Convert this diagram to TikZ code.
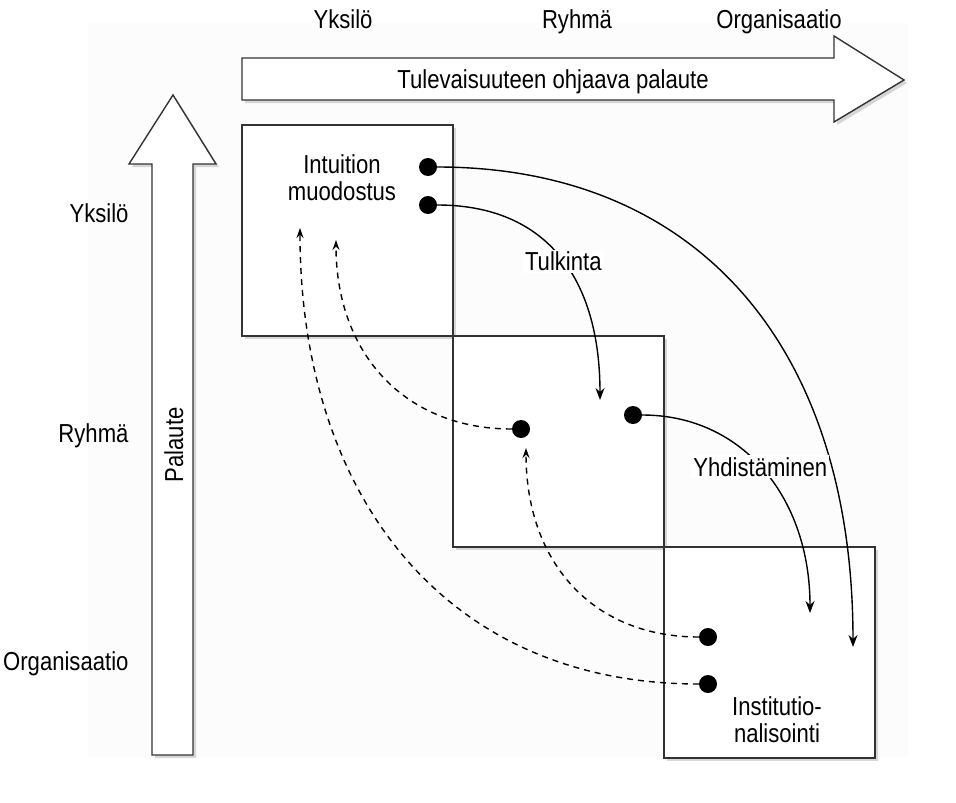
\documentclass[tikz,border=0pt]{standalone}
\usepackage{fontspec}
\setmainfont{Liberation Sans}[FakeStretch=0.85]
\usetikzlibrary{arrows.meta,positioning,shadows}

\begin{document}
\begin{tikzpicture}[
  x=1pt, y=-1pt,
  font=\fontsize{26}{27}\selectfont,
  box/.style={draw=black!80, line width=1.4pt, fill=white, minimum size=211pt, outer sep=0pt, inner sep=0pt, drop shadow={shadow xshift=3pt, shadow yshift=-3pt, opacity=.3}},
  bigarrow/.style={draw=black!80, line width=1.4pt, fill=white, line join=miter, drop shadow={shadow xshift=3pt, shadow yshift=-3pt, opacity=.3}},
  lvl/.style={anchor=base east},
  toplvl/.style={anchor=base},
  txt/.style={align=center, anchor=base},
  dot/.style={circle, fill=black, minimum size=18pt, inner sep=0pt},
  flow/.style={line width=1.4pt, -{Stealth[length=12pt,width=9pt]}},
  back/.style={line width=1.4pt, dash pattern=on 6pt off 5pt, -{Stealth[length=10pt,width=7pt]}},
  tag/.style={fill=white, inner sep=2pt}
]
\useasboundingbox (0,0) rectangle (956,803);
\fill[gray!2] (88,23) rectangle (908,758);

% levels
\node[toplvl] (tyks) at (343,28) {Yksilö};
\node[toplvl] (tryh) at (577,28) {Ryhmä};
\node[toplvl] (torg) at (779,28) {Organisaatio};
\node[lvl] (lyks) at (132,222) {Yksilö};
\node[lvl] (lryh) at (132,442) {Ryhmä};
\node[lvl] (lorg) at (132,670) {Organisaatio};

% feedforward and feedback
\draw[bigarrow] (242,58) -- (834,58) -- (834,36) -- (904,80) -- (834,122) -- (834,100) -- (242,100) -- cycle;
\node[txt] (fwd) at (553,88) {Tulevaisuuteen ohjaava palaute};
\draw[bigarrow] (152,755) -- (152,164) -- (129,164) -- (173,95) -- (216,164) -- (193,164) -- (193,755) -- cycle;
\node[txt, rotate=90] (fb) at (183,445) {Palaute};

% boxes
\node[box, anchor=north west] (indiv) at (242,125) {};
\node[box, anchor=north west] (grp) at (indiv.south east) {};
\node[box, anchor=north west] (org) at (grp.south east) {};
\node[txt] (intu) at (342,200) {Intuition\\muodostus};
\node[txt] (inst) at (777,742) {Institutio-\\nalisointi};

% dots
\node[dot] (ia) at (428,167) {};
\node[dot] (ib) at (428,205) {};
\node[dot] (ga) at (521,429) {};
\node[dot] (gb) at (633,415) {};
\node[dot] (oa) at (708,637) {};
\node[dot] (ob) at (708,684) {};

\coordinate (iend) at (853,647);
\coordinate (tend) at (600,400);
\coordinate (yend) at (810,613);
\coordinate (gend) at (336,240);
\coordinate (oend) at (526,448);
\coordinate (ofar) at (300,228);

\draw[flow] (ia) .. controls +(270,0) and +(0,-300) .. (iend);
\draw[flow] (ib) .. controls +(120,0) and +(0,-120) .. (tend) node[tag, pos=0.52] (tulk) {Tulkinta};
\draw[flow] (gb) .. controls +(110,0) and +(0,-115) .. (yend) node[tag, pos=0.48] (yhd) {Yhdistäminen};
\draw[back] (ga) .. controls +(-115,0) and +(0,115) .. (gend);
\draw[back] (oa) .. controls +(-115,0) and +(0,115) .. (oend);
\draw[back] (ob) .. controls +(-265,0) and +(0,265) .. (ofar);
\end{tikzpicture}
\end{document}
